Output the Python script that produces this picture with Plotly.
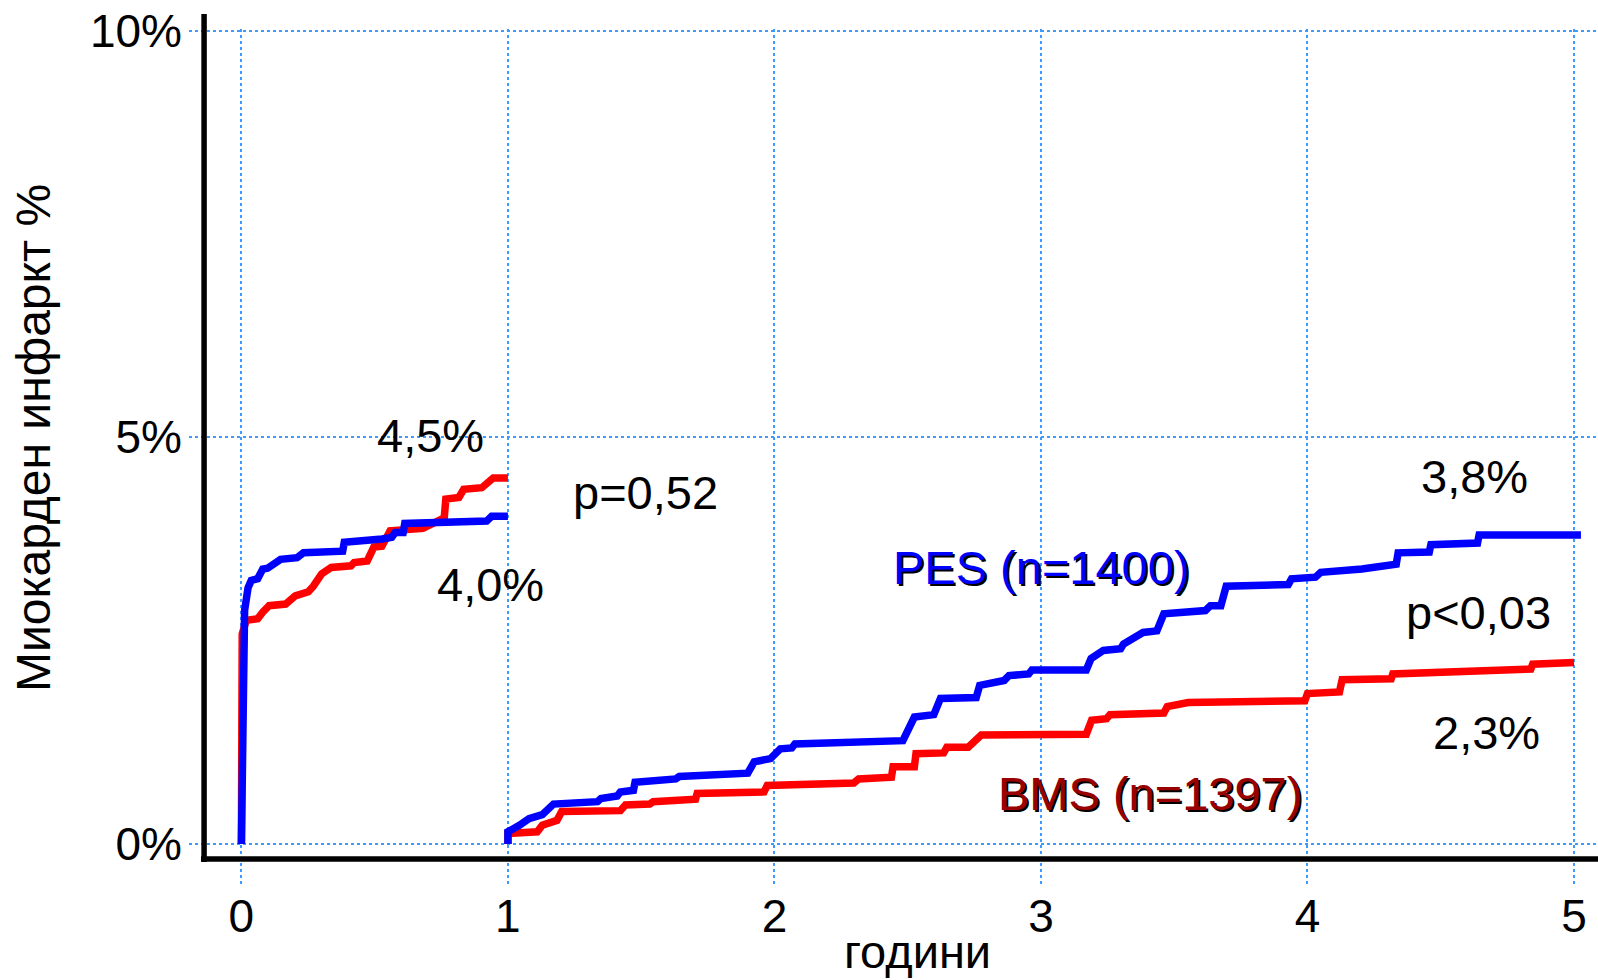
import plotly.graph_objects as go

# ---------------- data (years, %) ----------------
pes_y1_x = [0, 0.005, 0.012, 0.025, 0.037, 0.061, 0.080, 0.098, 0.123, 0.147, 0.209, 0.233,
            0.380, 0.386, 0.527, 0.564, 0.577, 0.607, 0.613, 0.699, 0.920, 0.939, 1.0]
pes_y1_y = [0, 2.80, 2.87, 3.15, 3.24, 3.26, 3.38, 3.39, 3.46, 3.50, 3.52, 3.58,
            3.60, 3.71, 3.75, 3.77, 3.83, 3.83, 3.94, 3.95, 3.97, 4.03, 4.03]

bms_y1_x = [0, 0.003, 0.018, 0.061, 0.080, 0.104, 0.166, 0.202, 0.251, 0.270, 0.301, 0.337,
            0.411, 0.423, 0.472, 0.497, 0.527, 0.558, 0.681, 0.761, 0.767, 0.816, 0.834,
            0.902, 0.945, 1.0]
bms_y1_y = [0, 2.58, 2.75, 2.77, 2.85, 2.93, 2.95, 3.05, 3.10, 3.17, 3.32, 3.40,
            3.42, 3.46, 3.48, 3.65, 3.66, 3.85, 3.88, 4.01, 4.24, 4.26, 4.36,
            4.38, 4.50, 4.50]

pes_y5_x = [1.0, 1.0, 1.043, 1.079, 1.129, 1.141, 1.171, 1.336, 1.349, 1.41,
            1.422, 1.471, 1.477, 1.630, 1.643, 1.90, 1.924, 1.985, 2.022, 2.065,
            2.077, 2.482, 2.50, 2.525, 2.598, 2.623, 2.757, 2.770, 2.862, 2.880,
            2.954, 2.966, 3.17, 3.188, 3.234, 3.299, 3.31, 3.338, 3.37, 3.383,
            3.435, 3.461, 3.617, 3.636, 3.675, 3.695, 3.928, 3.94, 4.03, 4.05,
            4.204, 4.333, 4.34, 4.457, 4.463, 4.638, 4.644, 5.026]
pes_y5_y = [0, 0.15, 0.23, 0.31, 0.36, 0.40, 0.49, 0.52, 0.56, 0.59,
            0.64, 0.66, 0.76, 0.80, 0.83, 0.87, 1.01, 1.05, 1.17, 1.18,
            1.23, 1.27, 1.40, 1.56, 1.59, 1.79, 1.80, 1.95, 2.01, 2.07,
            2.09, 2.14, 2.14, 2.28, 2.38, 2.40, 2.46, 2.51, 2.56, 2.60,
            2.62, 2.83, 2.87, 2.93, 2.93, 3.17, 3.19, 3.26, 3.28, 3.34,
            3.38, 3.44, 3.58, 3.59, 3.68, 3.70, 3.80, 3.80]

bms_y5_x = [1.0, 1.0, 1.110, 1.129, 1.184, 1.202, 1.422, 1.441, 1.532, 1.545,
            1.704, 1.710, 1.961, 1.973, 2.298, 2.316, 2.439, 2.445, 2.525, 2.531,
            2.635, 2.647, 2.727, 2.776, 3.17, 3.19, 3.246, 3.259, 3.461, 3.474,
            3.552, 3.99, 4.0, 4.12, 4.13, 4.314, 4.320, 4.838, 4.845, 5.0]
bms_y5_y = [0, 0.13, 0.15, 0.23, 0.29, 0.40, 0.41, 0.48, 0.49, 0.52,
            0.55, 0.62, 0.64, 0.72, 0.75, 0.80, 0.82, 0.95, 0.95, 1.11,
            1.12, 1.19, 1.19, 1.34, 1.35, 1.52, 1.54, 1.59, 1.61, 1.69,
            1.74, 1.76, 1.85, 1.87, 2.02, 2.03, 2.09, 2.15, 2.21, 2.23]

x_ticks = [0, 1, 2, 3, 4, 5]
x_tick_labels = ["0", "1", "2", "3", "4", "5"]
y_ticks = [0, 5, 10]
y_tick_labels = ["0%", "5%", "10%"]

x_title = "години"
y_title = "Миокарден инфаркт %"

# value labels: (text, x, y)
value_labels = [("4,5%", 0.71, 5.02), ("4,0%", 0.935, 3.19), ("p=0,52", 1.515, 4.32),
                ("3,8%", 4.628, 4.52), ("p<0,03", 4.640, 2.84), ("2,3%", 4.672, 1.37)]
series_labels = [("PES (n=1400)", 3.002, 3.40, "#0000FF"),
                 ("BMS (n=1397)", 3.41, 0.62, "#990000")]

# ---------------- figure ----------------
FONT = "Arial, Liberation Sans, sans-serif"
GRID = "#3d9bff"

fig = go.Figure()
fig.add_trace(go.Scatter(x=bms_y1_x + [None] + bms_y5_x, y=bms_y1_y + [None] + bms_y5_y,
                         mode="lines", line=dict(color="#FF0000", width=7.5),
                         connectgaps=False, showlegend=False, hoverinfo="skip"))
fig.add_trace(go.Scatter(x=pes_y1_x + [None] + pes_y5_x, y=pes_y1_y + [None] + pes_y5_y,
                         mode="lines", line=dict(color="#0000FF", width=7.5),
                         connectgaps=False, showlegend=False, hoverinfo="skip"))

for text, x, y in value_labels:
    fig.add_annotation(x=x, y=y, text=text, showarrow=False,
                       font=dict(family=FONT, size=47, color="black"))
for text, x, y, col in series_labels:
    fig.add_annotation(x=x, y=y, text=text, showarrow=False, xshift=2, yshift=-2,
                       font=dict(family=FONT, size=47, color="black"))
    fig.add_annotation(x=x, y=y, text=text, showarrow=False,
                       font=dict(family=FONT, size=47, color=col))

# axis titles
fig.add_annotation(xref="paper", yref="paper", x=0.5167, y=-0.1068, text=x_title,
                   showarrow=False, xanchor="center", yanchor="bottom", borderpad=0,
                   font=dict(family=FONT, size=47, color="black"))
fig.add_annotation(xref="paper", yref="paper", x=-0.1107, y=0.5233, text=y_title,
                   showarrow=False, xanchor="center", yanchor="middle", textangle=-90,
                   font=dict(family=FONT, size=48, color="black"))

# axis lines (black, thick)
fig.add_shape(type="line", xref="paper", yref="paper", x0=0.0107, x1=0.0107,
              y0=0.029, y1=1.0175, line=dict(color="black", width=5.5))
fig.add_shape(type="line", xref="paper", yref="paper", x0=0.0085, x1=1.0,
              y0=0.0326, y1=0.0326, line=dict(color="black", width=5.5))

fig.update_layout(
    width=1598, height=980,
    margin=dict(l=189, r=0, t=29, b=93),
    plot_bgcolor="white", paper_bgcolor="white",
    font=dict(family=FONT, size=46, color="black"),
    showlegend=False,
)
fig.update_xaxes(range=[-0.1966, 5.090], tickvals=x_ticks, ticktext=x_tick_labels,
                 showgrid=True, gridcolor=GRID, griddash="dot", gridwidth=2,
                 zeroline=False, showline=False, ticks="",
                 tickfont=dict(size=46), ticklabelstandoff=-2,
                 automargin=False)
fig.update_yaxes(range=[-0.529, 10.02], tickvals=y_ticks, ticktext=y_tick_labels,
                 showgrid=True, gridcolor=GRID, griddash="dot", gridwidth=2,
                 zeroline=False, showline=False, ticks="",
                 tickfont=dict(size=46), ticklabelstandoff=6,
                 automargin=False)

fig.write_html("out.html")
